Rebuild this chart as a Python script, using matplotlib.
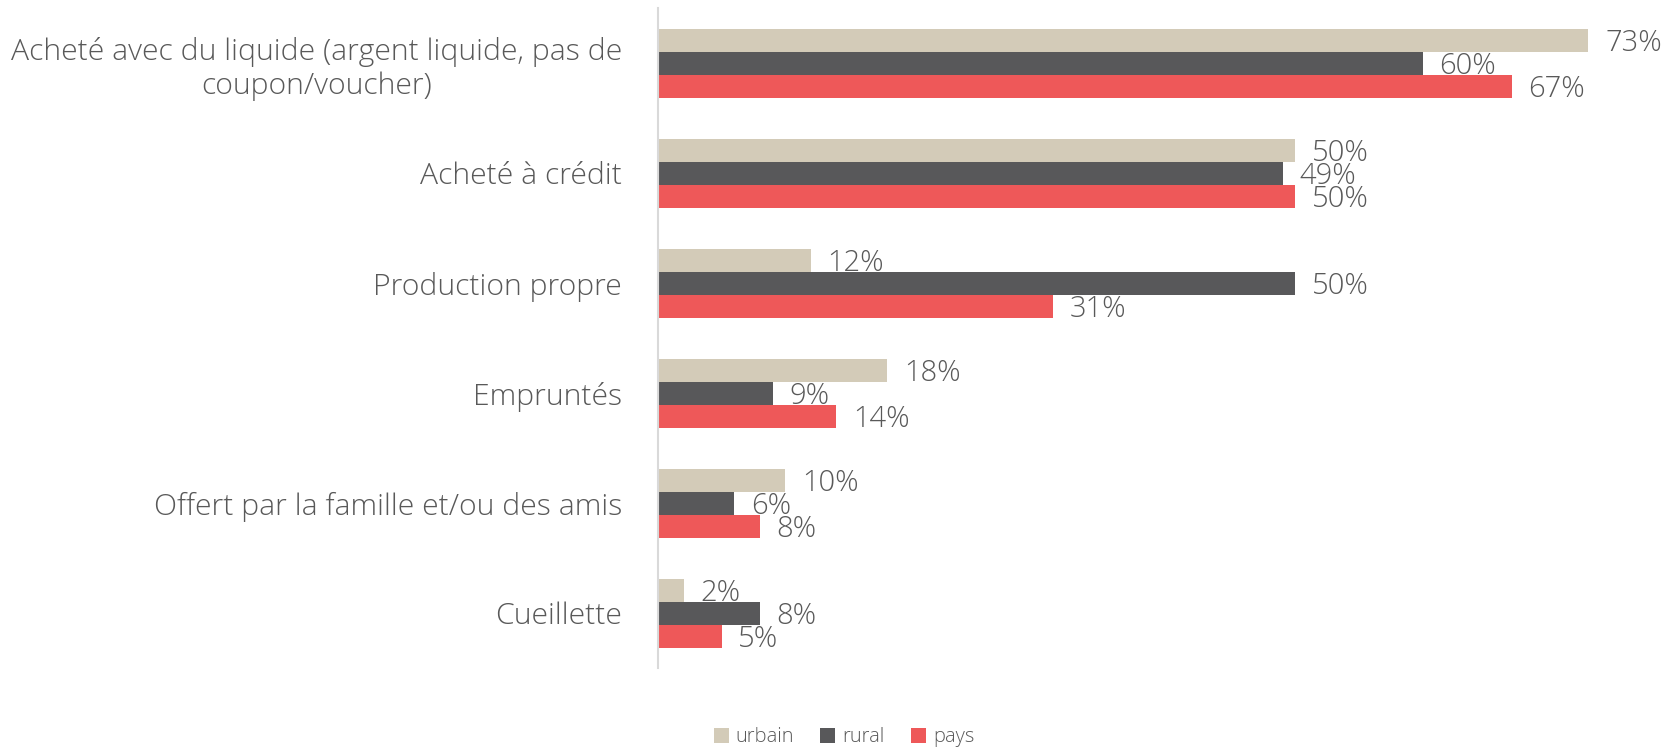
import matplotlib
matplotlib.use("Agg")
import matplotlib.pyplot as plt
import numpy as np

# sources of food, share of households (%)
categories = [
    "Acheté avec du liquide (argent liquide, pas de\ncoupon/voucher)",
    "Acheté à crédit",
    "Production propre",
    "Empruntés",
    "Offert par la famille et/ou des amis",
    "Cueillette",
]
series_names = ["urbain", "rural", "pays"]
urbain = [73, 50, 12, 18, 10, 2]
rural = [60, 49, 50, 9, 6, 8]
pays = [67, 50, 31, 14, 8, 5]

colors = ["#D3CBB8", "#58585A", "#EE5859"]
text_color = "#595959"

plt.rcParams["font.family"] = ["Open Sans", "DejaVu Sans"]

fig = plt.figure(figsize=(16.68, 7.51), dpi=100)
ax = fig.add_axes([0.3945, 0.1105, 0.596, 0.8788])

y = np.arange(len(categories))
h = 0.209
for i, (name, vals) in enumerate(zip(series_names, [urbain, rural, pays])):
    pos = y + (i - 1) * h
    ax.barh(pos, vals, height=h, color=colors[i], label=name)
    for p, v in zip(pos, vals):
        ax.annotate(f"{v}%", (v, p), xytext=(12, -2), textcoords="offset points",
                    ha="left", va="center", fontsize=21, color=text_color,
                    fontweight="light")

ax.set_xlim(0, 78)
ax.set_ylim(len(categories) - 0.5, -0.5)
ax.set_yticks(y)
ax.set_yticklabels(categories, fontsize=21.7, color=text_color, fontweight="light",
                   multialignment="center")
ax.tick_params(axis="y", length=0, pad=26)
ax.set_xticks([])
for s in ["top", "right", "bottom"]:
    ax.spines[s].set_visible(False)
ax.spines["left"].set_color("#d9d9d9")
ax.spines["left"].set_linewidth(1.5)

leg = fig.legend(loc="center", bbox_to_anchor=(0.506, 0.018), ncol=3, frameon=False,
                 fontsize=14.5, handlelength=0.75, handleheight=0.75, handletextpad=0.35,
                 columnspacing=1.3)
for t in leg.get_texts():
    t.set_color(text_color)
    t.set_fontweight("light")

fig.savefig("out.png", dpi=100)
